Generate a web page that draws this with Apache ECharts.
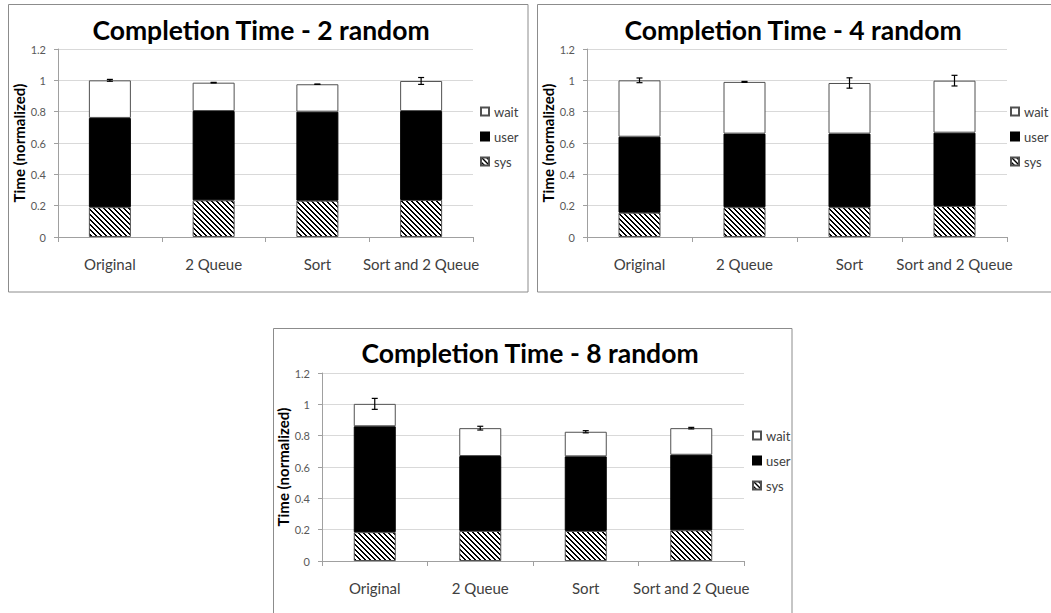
<!DOCTYPE html>
<html>
<head>
<meta charset="utf-8">
<script src="https://cdn.jsdelivr.net/npm/echarts@6/dist/echarts.min.js"></script>
<style>
html,body{margin:0;padding:0;background:#fff;}
#c{width:1051px;height:613px;}
</style>
</head>
<body>
<div id="c"></div>
<script>
// ---------- data ----------
const categories = ['Original', '2 Queue', 'Sort', 'Sort and 2 Queue'];
const yTicks = [0, 0.2, 0.4, 0.6, 0.8, 1, 1.2];
const titles = ['Completion Time - 2 random', 'Completion Time - 4 random', 'Completion Time - 8 random'];

const sys2  = [0.19, 0.234, 0.232, 0.236];
const user2 = [0.57, 0.57, 0.568, 0.568];
const wait2 = [0.24, 0.181, 0.175, 0.192];
const err2  = [0.006, 0.002, 0.001, 0.022];

const sys4  = [0.155, 0.19, 0.19, 0.198];
const user4 = [0.485, 0.47, 0.47, 0.468];
const wait4 = [0.36, 0.33, 0.323, 0.332];
const err4  = [0.015, 0.003, 0.033, 0.034];

const sys8  = [0.184, 0.192, 0.192, 0.196];
const user8 = [0.676, 0.478, 0.476, 0.482];
const wait8 = [0.143, 0.178, 0.157, 0.17];
const err8  = [0.035, 0.012, 0.007, 0.005];

// ---------- layout ----------
const panels = [
  {sys: sys2, user: user2, wait: wait2, err: err2, grid: {left: 58, top: 49, width: 415, height: 188},
   titleX: 261, titleY: 30, legend: {left: 480, top: 105}, frame: {x: 8.5, y: 4.5, width: 519.5, height: 287.5}},
  {sys: sys4, user: user4, wait: wait4, err: err4, grid: {left: 587, top: 49, width: 420, height: 188},
   titleX: 793, titleY: 30, legend: {left: 1010, top: 105}, frame: {x: 537.5, y: 4.5, width: 530, height: 287.5}},
  {sys: sys8, user: user8, wait: wait8, err: err8, grid: {left: 322, top: 373, width: 422, height: 188},
   titleX: 530, titleY: 353, legend: {left: 752, top: 429}, frame: {x: 273.5, y: 328.5, width: 518.5, height: 300}}
];

// hatch pattern
function makeHatch() {
  const p = 5;
  const cv = document.createElement('canvas');
  cv.width = p; cv.height = p;
  const ctx = cv.getContext('2d');
  const img = ctx.createImageData(p, p);
  for (let y = 0; y < p; y++) for (let x = 0; x < p; x++) {
    const d = ((x - y) % p + p) % p;
    const on = d === 0 || d === 1;
    const i = (y * p + x) * 4;
    const v = on ? 0 : 255;
    img.data[i] = v; img.data[i+1] = v; img.data[i+2] = v; img.data[i+3] = 255;
  }
  ctx.putImageData(img, 0, 0);
  return cv;
}
const hatch = {image: makeHatch(), repeat: 'repeat'};

const FONT = 'Lato, "Open Sans", sans-serif';
const grids = [], xAxes = [], yAxes = [], series = [], legends = [], graphics = [];

panels.forEach((pn, k) => {
  grids.push(pn.grid);
  xAxes.push({
    type: 'category', gridIndex: k, data: categories,
    axisLine: {lineStyle: {color: '#a0a0a0', width: 1}},
    axisTick: {show: true, length: 5, lineStyle: {color: '#a0a0a0'}},
    axisLabel: {interval: 0, fontFamily: FONT, fontSize: 15, color: '#404040', margin: 19}
  });
  yAxes.push({
    type: 'value', gridIndex: k, min: 0, max: 1.2, interval: 0.2,
    name: 'Time (normalized)', nameLocation: 'middle', nameGap: 28,
    nameTextStyle: {fontFamily: FONT, fontSize: 15, fontWeight: 'bold', color: '#000'},
    axisLine: {show: true, lineStyle: {color: '#a0a0a0'}},
    axisTick: {show: true, length: 4, lineStyle: {color: '#a0a0a0'}},
    axisLabel: {fontFamily: FONT, fontSize: 11, color: '#595959', margin: 12,
      formatter: v => String(yTicks.find(t => Math.abs(t - v) < 1e-9) ?? v)},
    splitLine: {lineStyle: {color: '#d9d9d9'}}
  });
  const common = {type: 'bar', stack: 's' + k, xAxisIndex: k, yAxisIndex: k, barWidth: 42};
  series.push(Object.assign({}, common, {name: 'sys', data: pn.sys,
    itemStyle: {color: hatch, borderColor: '#505050', borderWidth: 1}}));
  series.push(Object.assign({}, common, {name: 'user', data: pn.user,
    itemStyle: {color: '#000', borderColor: '#000', borderWidth: 1}}));
  series.push(Object.assign({}, common, {name: 'wait', data: pn.wait,
    itemStyle: {color: '#fff', borderColor: '#505050', borderWidth: 1}}));
  series.push({
    type: 'custom', xAxisIndex: k, yAxisIndex: k, z: 10,
    data: categories.map((c, i) => [i, pn.sys[i] + pn.user[i] + pn.wait[i], pn.err[i]]),
    renderItem: (params, api) => {
      const x = api.value(0), t = api.value(1), e = api.value(2);
      const hi = api.coord([x, t + e]), lo = api.coord([x, t - e]);
      const st = {stroke: '#000', lineWidth: 1.2};
      return {type: 'group', children: [
        {type: 'line', shape: {x1: hi[0], y1: hi[1], x2: lo[0], y2: lo[1]}, style: st},
        {type: 'line', shape: {x1: hi[0] - 3, y1: hi[1], x2: hi[0] + 3, y2: hi[1]}, style: st},
        {type: 'line', shape: {x1: lo[0] - 3, y1: lo[1], x2: lo[0] + 3, y2: lo[1]}, style: st}
      ]};
    }
  });
  legends.push({
    data: ['wait', 'user', 'sys'], orient: 'vertical', left: pn.legend.left, top: pn.legend.top,
    padding: 0, icon: 'rect', itemWidth: 8, itemHeight: 8, itemGap: 12,
    textStyle: {fontFamily: FONT, fontSize: 13, color: '#404040'},
    selectedMode: false
  });
  graphics.push({type: 'rect', shape: pn.frame, style: {fill: 'none', stroke: '#8c8c8c', lineWidth: 1}, z: -1});
  graphics.push({type: 'text', x: pn.titleX, y: pn.titleY,
    style: {text: titles[k], fontFamily: FONT, fontSize: 26.5, fontWeight: 'bold', fill: '#000',
      textAlign: 'center', textVerticalAlign: 'middle'}});
});

const chart = echarts.init(document.getElementById('c'), null, {renderer: 'svg'});
chart.setOption({
  animation: false,
  backgroundColor: '#fff',
  grid: grids, xAxis: xAxes, yAxis: yAxes, series: series, legend: legends, graphic: graphics
});
</script>
</body>
</html>
